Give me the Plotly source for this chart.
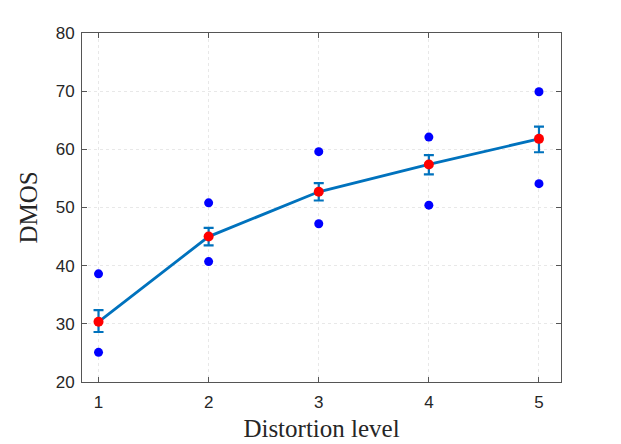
import plotly.graph_objects as go

levels = [1, 2, 3, 4, 5]
mean_dmos = [30.35, 45.0, 52.7, 57.4, 61.8]
err_plus = [2.0, 1.5, 1.5, 1.6, 2.1]
err_minus = [1.75, 1.5, 1.5, 1.7, 2.3]
upper_pts = [38.6, 50.8, 59.6, 62.1, 69.9]
lower_pts = [25.1, 40.7, 47.2, 50.4, 54.1]

fig = go.Figure()
fig.add_trace(go.Scatter(x=levels, y=upper_pts, mode="markers",
                         marker=dict(color="#0000FF", size=9), showlegend=False))
fig.add_trace(go.Scatter(x=levels, y=lower_pts, mode="markers",
                         marker=dict(color="#0000FF", size=9), showlegend=False))
fig.add_trace(go.Scatter(x=levels, y=mean_dmos, mode="lines",
                         line=dict(color="#0072BD", width=2.8),
                         error_y=dict(type="data", array=err_plus, arrayminus=err_minus,
                                      color="#0072BD", thickness=2.2, width=5),
                         showlegend=False))
fig.add_trace(go.Scatter(x=levels, y=mean_dmos, mode="markers",
                         marker=dict(color="#FF0000", size=10), showlegend=False))

axis_common = dict(showline=True, linecolor="#555555", linewidth=1, mirror="ticks",
                   ticks="inside", ticklen=5, tickcolor="#555555",
                   showgrid=True, gridcolor="#E8E8E8", griddash="dot", gridwidth=1,
                   zeroline=False, automargin=False,
                   tickfont=dict(family="Liberation Sans, Arial", size=17, color="#262626"))

fig.update_layout(
    width=621, height=444,
    margin=dict(l=74, r=68, t=25, b=70),
    plot_bgcolor="white", paper_bgcolor="white",
    xaxis=dict(range=[0.85, 5.2], tickvals=levels, ticklabelstandoff=5,
               title=dict(text="Distortion level", standoff=8,
                          font=dict(family="Liberation Serif, Times New Roman", size=25, color="#262626")),
               **axis_common),
    yaxis=dict(range=[20, 80], tickvals=[20, 30, 40, 50, 60, 70, 80], ticklabelstandoff=3,
               title=dict(text="DMOS", standoff=10,
                          font=dict(family="Liberation Serif, Times New Roman", size=25, color="#262626")),
               **axis_common),
)

fig.write_html("out.html")
